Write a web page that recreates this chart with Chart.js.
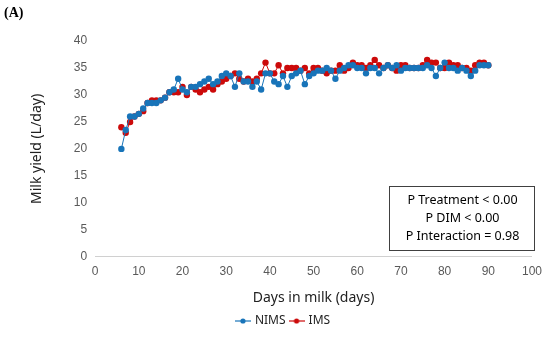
<!DOCTYPE html>
<html>
<head>
<meta charset="utf-8">
<script src="https://cdn.jsdelivr.net/npm/chart.js@4"></script>
<style>
  html, body { margin: 0; padding: 0; background: #fff; }
</style>
</head>
<body>
<canvas id="milkChart" width="550" height="337"></canvas>
<script>
// days in milk 6..90
const days = [6,7,8,9,10,11,12,13,14,15,16,17,18,19,20,21,22,23,24,25,26,27,28,29,30,31,32,33,34,35,36,37,38,39,40,41,42,43,44,45,46,47,48,49,50,51,52,53,54,55,56,57,58,59,60,61,62,63,64,65,66,67,68,69,70,71,72,73,74,75,76,77,78,79,80,81,82,83,84,85,86,87,88,89,90];

const nims = [20,23.5,26,26,26.5,27.5,28.5,28.5,28.5,29,29.5,30.5,31,33,31,30.5,31.5,31.5,32,32.5,33,32,32.5,33.5,34,33.5,31.5,34,32.5,32.5,31.5,32.5,31,34,34,32.5,32,33.5,31.5,33.5,34,34.5,32,33.5,34,34.5,34.5,35,34.5,33,34.5,35,35.5,35.5,35,35,34,35,35,34,35,35.5,35,35.5,34.5,35,35,35,35,35,35.5,35,33.5,35,36,35,35,34.5,35,34.5,33.5,34.5,35.5,35.5,35.5];

const ims = [24,23,25,26,26.5,27,28.5,29,29,29,29.5,30.5,30.5,30.5,31.5,30,31.5,31,30.5,31,31.5,31,32,32.5,33,33.5,34,33,32.5,33,32.5,33,34,36,34,34,35.5,34,35,35,35,34.5,35,34,35,35,34.5,34,34.5,34.5,35.5,34.5,35,36,35.5,35.5,35,35.5,36.5,35.5,35,35.5,35,34.5,35.5,35.5,35,35,35,35.5,36.5,36,36,35,35,36,35.5,35.5,35,35,34.5,35.5,36,36,35.5];

const seriesNames = ['NIMS', 'IMS'];
const seriesColors = ['#1874b9', '#cc0a0a'];
const statsLines = ['P Treatment < 0.00', 'P DIM < 0.00', 'P Interaction = 0.98'];

function toPoints(vals) {
    return days.map((d, i) => ({ x: d, y: vals[i] }));
}

// small line-with-dot marker for the legend
function legendMarker(color) {
    const c = document.createElement('canvas');
    c.width = 16; c.height = 8;
    const g = c.getContext('2d');
    g.strokeStyle = color; g.lineWidth = 1.2;
    g.beginPath(); g.moveTo(0, 4); g.lineTo(16, 4); g.stroke();
    g.fillStyle = color;
    g.beginPath(); g.arc(8, 4, 2.6, 0, Math.PI * 2); g.fill();
    return c;
}

const extras = {
    id: 'extras',
    afterDraw(chart) {
        const ctx = chart.ctx;
        ctx.save();
        // panel label
        ctx.fillStyle = '#000';
        ctx.font = 'bold 14px "Liberation Serif", serif';
        ctx.textBaseline = 'top';
        ctx.textAlign = 'left';
        ctx.fillText('(A)', 4, 6);
        // stats box
        const bx = 389, by = 186, bw = 145, bh = 64;
        ctx.fillStyle = '#fff';
        ctx.fillRect(bx, by, bw, bh);
        ctx.strokeStyle = '#404040';
        ctx.lineWidth = 1;
        ctx.strokeRect(bx + 0.5, by + 0.5, bw, bh);
        ctx.fillStyle = '#000';
        ctx.font = '12.5px "Noto Sans", sans-serif';
        ctx.textAlign = 'center';
        ctx.textBaseline = 'middle';
        statsLines.forEach((t, i) => {
            ctx.fillText(t, bx + bw / 2 + 1, by + 14 + i * 18);
        });
        ctx.restore();
    }
};

const ctx = document.getElementById('milkChart').getContext('2d');
new Chart(ctx, {
    type: 'line',
    data: {
        datasets: [nims, ims].map((vals, i) => ({
            label: seriesNames[i],
            data: toPoints(vals),
            borderColor: seriesColors[i],
            backgroundColor: seriesColors[i],
            borderWidth: 1,
            pointRadius: 3.2,
            pointBorderWidth: 0,
            pointStyle: 'circle',
            tension: 0
        }))
    },
    options: {
        responsive: false,
        animation: false,
        layout: { padding: { top: 41, right: 8, left: 25, bottom: 0 } },
        scales: {
            x: {
                type: 'linear',
                min: 0, max: 100,
                grid: { display: false, drawTicks: false },
                border: { color: '#d0d0d0' },
                ticks: { stepSize: 10, maxRotation: 0, color: '#595959', padding: 8, font: { size: 12, family: 'Liberation Sans' } },
                title: { display: true, text: 'Days in milk (days)', color: '#222', font: { size: 14, family: 'Noto Sans' }, padding: { top: 2 } }
            },
            y: {
                min: 0, max: 40,
                grid: { display: false, drawTicks: false },
                border: { display: false },
                ticks: { stepSize: 5, color: '#595959', padding: 8, font: { size: 12, family: 'Liberation Sans' } },
                title: { display: true, text: 'Milk yield (L/day)', color: '#222', font: { size: 14, family: 'Noto Sans' }, padding: { bottom: 20 } }
            }
        },
        plugins: {
            legend: {
                position: 'bottom',
                labels: {
                    usePointStyle: true,
                    color: '#222',
                    padding: 5,
                    font: { size: 12, family: 'Noto Sans' },
                    generateLabels(chart) {
                        return Chart.defaults.plugins.legend.labels.generateLabels(chart).map(l => {
                            l.pointStyle = legendMarker(seriesColors[l.datasetIndex]);
                            return l;
                        });
                    }
                }
            },
            tooltip: { enabled: false }
        }
    },
    plugins: [extras]
});
</script>
</body>
</html>
